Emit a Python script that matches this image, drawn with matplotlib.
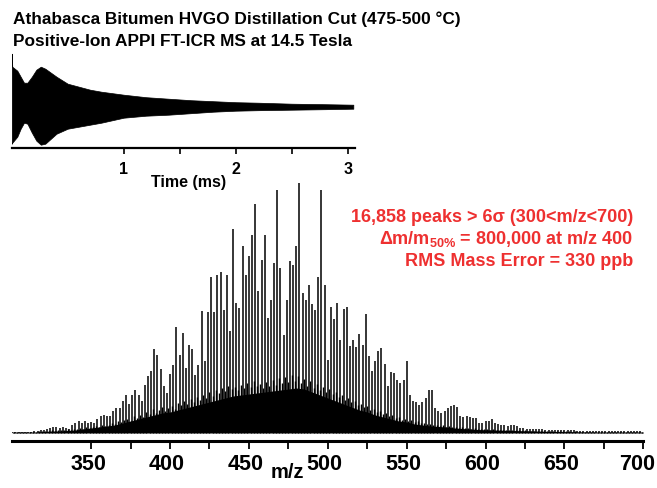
import numpy as np
import matplotlib
matplotlib.use("Agg")
from matplotlib import pyplot as plt
from matplotlib.transforms import ScaledTranslation

plt.rcParams['font.family'] = ['Liberation Sans', 'DejaVu Sans']
plt.rcParams['font.weight'] = 'bold'
plt.rcParams['mathtext.default'] = 'regular'

# tall peaks at even nominal mass, m/z 300-698 (arbitrary units, max 250)
tall_mz = np.arange(300, 700, 2)
tall_h = np.array([
    1, 1, 1, 1, 1, 1, 1, 2, 2, 3,            # 300-318
    3, 4, 5, 6, 6, 5, 6, 5, 4, 8,            # 320-338
    10, 12, 10, 12, 10, 11, 10, 14, 17, 18,  # 340-358
    17, 17, 22, 25, 25, 32, 38, 29, 38, 43,  # 360-378
    38, 32, 48, 57, 62, 84, 78, 64, 47, 40,  # 380-398
    59, 68, 106, 78, 100, 65, 88, 84, 58, 68,  # 400-418
    122, 72, 121, 156, 121, 158, 161, 123, 158, 102,  # 420-438
    204, 130, 125, 187, 158, 177, 198, 229, 142, 173,  # 440-458
    198, 115, 133, 170, 243, 165, 98, 133, 172, 168,  # 460-478
    187, 250, 140, 133, 148, 129, 123, 156, 243, 148,  # 480-498
    73, 126, 114, 130, 93, 124, 126, 87, 93, 86,  # 500-518
    99, 88, 119, 77, 62, 72, 82, 85, 69, 47,  # 520-538
    61, 60, 53, 50, 53, 72, 38, 32, 31, 28,  # 540-558
    31, 35, 43, 43, 25, 22, 20, 22, 25, 27,  # 560-578
    28, 26, 17, 16, 17, 16, 15, 15, 10, 10,  # 580-598
    12, 12, 14, 10, 9, 8, 8, 7, 8, 8,        # 600-618
    7, 5, 5, 4, 4, 4, 4, 4, 4, 3,            # 620-638
    3, 3, 3, 3, 3, 3, 3, 3, 3, 2,            # 640-658
    2, 2, 2, 2, 2, 2, 2, 2, 2, 2,            # 660-678
    2, 2, 2, 2, 2, 2, 2, 2, 2, 2,            # 680-698
])

# low-level peaks at odd nominal mass, m/z 301-699
minor_mz = np.arange(301, 700, 2)
minor_h = np.array([
    1, 1, 1, 1, 1, 1, 1, 1, 2, 2,            # 301-319
    2, 2, 3, 2, 3, 3, 3, 4, 3, 4,            # 321-339
    4, 5, 4, 6, 5, 6, 7, 6, 8, 7,            # 341-359
    8, 10, 9, 12, 11, 13, 14, 12, 17, 15,    # 361-379
    18, 16, 21, 19, 24, 20, 23, 26, 22, 25,  # 381-399
    27, 24, 30, 28, 32, 29, 34, 31, 36, 33,  # 401-419
    38, 35, 41, 37, 43, 40, 45, 42, 47, 44,  # 421-439
    46, 43, 48, 45, 50, 46, 52, 47, 49, 45,  # 441-459
    51, 47, 53, 48, 55, 50, 56, 51, 58, 52,  # 461-479
    57, 50, 54, 47, 52, 45, 49, 43, 46, 41,  # 481-499
    44, 39, 41, 36, 38, 33, 35, 31, 32, 28,  # 501-519
    29, 26, 27, 23, 24, 21, 22, 19, 20, 17,  # 521-539
    18, 15, 16, 13, 14, 12, 13, 11, 12, 10,  # 541-559
    10, 9, 9, 8, 8, 7, 8, 6, 7, 6,           # 561-579
    6, 5, 6, 5, 5, 4, 5, 4, 4, 4,            # 581-599
    4, 3, 4, 3, 3, 3, 3, 3, 3, 3,            # 601-619
    3, 2, 3, 2, 2, 2, 2, 2, 2, 2,            # 621-639
    2, 2, 2, 2, 2, 2, 2, 1, 2, 1,            # 641-659
    1, 1, 1, 1, 1, 1, 1, 1, 1, 1,            # 661-679
    1, 1, 1, 1, 1, 1, 1, 1, 1, 1,            # 681-699
])

# unresolved low-level signal underneath, every 5 Da
band_mz = np.arange(300, 705, 5)
band_h = np.array([
    1, 1, 1, 1, 1.5, 2, 2, 2.5, 3, 4,        # 300-345
    5, 6, 7, 8, 10, 12, 14, 16, 18, 20,      # 350-395
    21, 23, 25, 27, 29, 31, 33, 35, 37, 38,  # 400-445
    39, 40, 41, 42, 43, 44, 45, 44, 41, 38,  # 450-495
    35, 32, 29, 26, 23, 21, 18, 16, 14, 12,  # 500-545
    11, 9, 8, 7, 6.5, 6, 5, 4.5, 4, 3.5,     # 550-595
    3.2, 3, 2.8, 2.6, 2.4, 2.2, 2, 1.8, 1.6, 1.5,  # 600-645
    1.4, 1.3, 1.2, 1.1, 1, 1, 1, 1, 1, 1,    # 650-695
    1,                                       # 700
])

# time-domain transient envelope (inset)
fid_t = [0.0, 0.005, 0.05, 0.08, 0.11, 0.14, 0.18, 0.22, 0.26, 0.30, 0.35,
         0.40, 0.50, 0.60, 0.70, 0.80, 1.0, 1.2, 1.4, 1.6, 1.8, 2.0, 2.2,
         2.5, 2.8, 3.05]
fid_up = [53, 40, 36, 30, 24, 24, 30, 37, 40, 38, 34, 30, 23, 20, 17, 15,
          12, 9.5, 8, 6.5, 5.5, 4.5, 4, 3, 2.5, 2]
fid_lo = [37, 36, 30, 22, 16, 17, 26, 34, 38, 37, 32, 27, 22, 20, 18, 16,
          11, 9, 8, 6.5, 5, 4, 3.5, 3, 2.5, 2]

W, H = 657, 488
fig = plt.figure(figsize=(W / 100, H / 100), dpi=100)

# main spectrum
ax = fig.add_axes([12.3 / W, 1 - 441 / H, 631 / W, 263 / H])
ax.patch.set_visible(False)
ax.fill_between(band_mz, 0, band_h, color='black', lw=0)
ax.vlines(minor_mz, 0, minor_h, color='black', lw=1.0)
ax.vlines(tall_mz, 0, tall_h, color='black', lw=1.1)
ax.set_xlim(300, 700)
ax.set_ylim(-8, 255)
for s in ['top', 'left', 'right']:
    ax.spines[s].set_visible(False)
ax.spines['bottom'].set_linewidth(2.2)
ax.set_yticks([])
ax.set_xticks(np.arange(350, 701, 50))
ax.set_xticks(np.arange(375, 700, 50), minor=True)
ax.tick_params(axis='x', which='both', direction='out', length=5.5, width=1.3)
ax.tick_params(axis='x', which='major', labelsize=15.5, pad=4)
labs = ax.get_xticklabels()
for i, lab in enumerate(labs):
    lab.set_fontweight('bold')
    dx = -3 if i < len(labs) - 1 else -6
    lab.set_transform(lab.get_transform() + ScaledTranslation(dx / 100, 0, fig.dpi_scale_trans))
fig.text(287 / W, 1 - 472 / H, 'm/z', fontsize=14.5, fontweight='bold',
         ha='center', va='center')

# inset transient
ins = fig.add_axes([11.7 / W, 1 - 147.7 / H, 343.3 / W, 97.7 / H])
ins.patch.set_visible(False)
ins.fill_between(fid_t, [-v for v in fid_lo], fid_up, color='black', lw=0.5)
ins.set_xlim(0, 3.065)
ins.set_ylim(-41, 56.7)
for s in ['top', 'left', 'right']:
    ins.spines[s].set_visible(False)
ins.spines['bottom'].set_linewidth(1.6)
ins.set_yticks([])
ins.set_xticks([1, 2, 3])
ins.set_xticks([1.5, 2.5], minor=True)
ins.tick_params(axis='x', which='both', direction='out', length=4.5, width=1.2)
ins.tick_params(axis='x', which='major', labelsize=11.5, pad=6)
for lab in ins.get_xticklabels():
    lab.set_fontweight('bold')
fig.text(189 / W, 1 - 183 / H, 'Time (ms)', fontsize=11.5, fontweight='bold',
         ha='center', va='center')

# titles
fig.text(13.3 / W, 1 - 24 / H, 'Athabasca Bitumen HVGO Distillation Cut (475-500 °C)',
         fontsize=12.4, fontweight='bold', va='baseline')
fig.text(13.3 / W, 1 - 45.5 / H, 'Positive-Ion APPI FT-ICR MS at 14.5 Tesla',
         fontsize=12.4, fontweight='bold', va='baseline')

red = '#ee3030'
notes = ['16,858 peaks > 6σ (300<m/z<700)',
         'Δm/m$_{50\\%}$ = 800,000 at m/z 400',
         'RMS Mass Error = 330 ppb']
for txt, yb in zip(notes, [221.5, 244, 266.5]):
    fig.text(633.3 / W, 1 - yb / H, txt, fontsize=13, fontweight='bold',
             color=red, ha='right', va='baseline')

fig.savefig('out.png', dpi=100)
